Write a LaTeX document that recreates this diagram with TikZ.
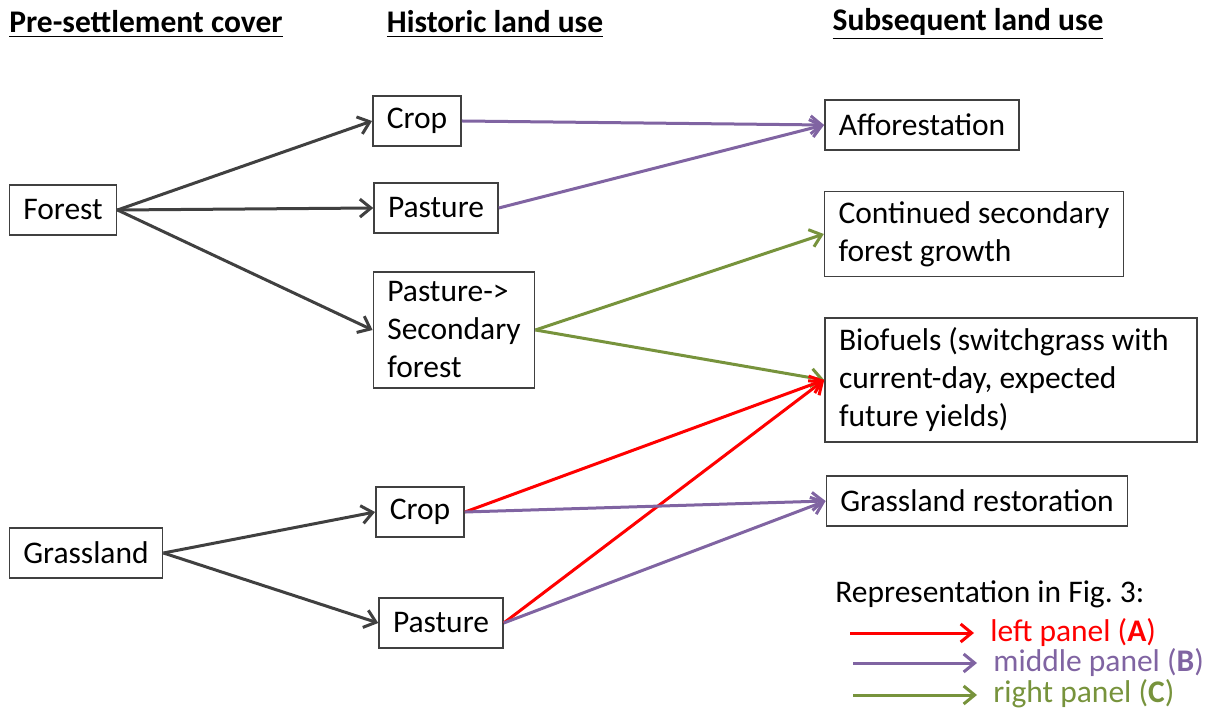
\documentclass[tikz,border=0pt]{standalone}
\usepackage{fontspec}
\setmainfont{Carlito}
\usepackage{xcolor}
\definecolor{luDark}{HTML}{404040}
\definecolor{luRed}{HTML}{FF0000}
\definecolor{luPurple}{HTML}{8064A2}
\definecolor{luGreen}{HTML}{77933C}
\usetikzlibrary{arrows.meta}
\tikzset{
    landbox/.style={
        draw=luDark,
        fill=white,
        rectangle,
        line width=0.75pt,
        align=left,
        inner xsep=7pt,
        inner ysep=5pt,
        minimum height=25pt,
        font=\fontsize{15.75}{19}\selectfont
    },
    heading/.style={
        font=\fontsize{15.75}{19}\selectfont\bfseries,
        inner sep=0pt
    },
    flow/.style={
        -{Straight Barb[length=5.5pt,width=9pt,line width=1.5pt]},
        line width=1.5pt,
        color=luDark
    },
    panelA/.style={flow, color=luRed},
    panelB/.style={flow, color=luPurple},
    panelC/.style={flow, color=luGreen},
    legtext/.style={
        anchor=west,
        inner sep=0pt,
        font=\fontsize{15.75}{19}\selectfont
    }
}
\begin{document}
\begin{tikzpicture}[x=0.5pt, y=-0.5pt]
    \useasboundingbox (0,0) rectangle (1214,715);

    % column headings
    \node[heading] (hpre) at (146,24) {\underline{Pre-settlement cover}};
    \node[heading] (hhist) at (495,24) {\underline{Historic land use}};
    \node[heading] (hsub) at (968,24) {\underline{Subsequent land use}};

    % pre-settlement cover
    \node[landbox] (forest) at (63,210) {Forest};
    \node[landbox] (grass) at (86,553) {Grassland};

    % historic land use
    \node[landbox] (cropF) at (417,121) {Crop};
    \node[landbox] (pastF) at (436,208) {Pasture};
    \node[landbox] (pastS) at (454,330) {Pasture->\\Secondary\\forest};
    \node[landbox] (cropG) at (420,512) {Crop};
    \node[landbox] (pastG) at (441,623) {Pasture};

    % subsequent land use
    \node[landbox] (affor) at (922,125) {Afforestation};
    \node[landbox] (contd) at (974,234) {Continued secondary\\forest growth};
    \node[landbox, text width=172pt, align=flush left] (biofu) at (1011,380) {Biofuels (switchgrass with\\current-day, expected\\future yields)};
    \node[landbox] (restor) at (977,501) {Grassland restoration};

    \draw[flow] (forest.east) -- (cropF.west);
    \draw[flow] (forest.east) -- (pastF.west);
    \draw[flow] (forest.east) -- (pastS.west);
    \draw[flow] (grass.east) -- (cropG.west);
    \draw[flow] (grass.east) -- (pastG.west);

    \draw[panelB] (cropF.east) -- (affor.west);
    \draw[panelB] (pastF.east) -- (affor.west);
    \draw[panelC] (pastS.east) -- (contd.west);
    \draw[panelC] (pastS.east) -- (biofu.west);
    \draw[panelA] (cropG.east) -- (biofu.west);
    \draw[panelA] (pastG.east) -- (biofu.west);
    \draw[panelB] (cropG.east) -- (restor.west);
    \draw[panelB] (pastG.east) -- (restor.west);

    % legend
    \node[legtext] (legtitle) at (835,594) {Representation in Fig.~3:};
    \node[legtext, text=luRed] (legA) at (990,633) {left panel (\textbf{A})};
    \node[legtext, text=luPurple] (legB) at (993,663) {middle panel (\textbf{B})};
    \node[legtext, text=luGreen] (legC) at (993,694) {right panel (\textbf{C})};
    \coordinate (startA) at (850,633);
    \coordinate (startB) at (853,663);
    \coordinate (startC) at (853,695);
    \draw[panelA, shorten >=8pt] (startA) -- (legA.west);
    \draw[panelB, shorten >=8pt] (startB) -- (legB.west);
    \draw[panelC, shorten >=8pt] (startC) -- (legC.west |- startC);
\end{tikzpicture}
\end{document}
